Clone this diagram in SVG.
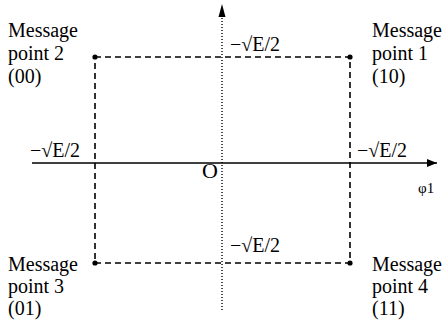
<svg xmlns="http://www.w3.org/2000/svg" width="444" height="328" viewBox="0 0 444 328">
<style>
text{font-family:'Liberation Serif','Times New Roman',serif;font-size:20px;fill:#000}
.dash{stroke:#000;stroke-width:1.6;stroke-dasharray:6,4;fill:none}
.axis{stroke:#000;stroke-width:1.3;fill:none}
.dot{stroke:#000;stroke-width:1.4;stroke-dasharray:1,2;fill:none}
</style>
<defs>
<marker id="ah" markerWidth="10" markerHeight="8" refX="10" refY="4" orient="auto" markerUnits="userSpaceOnUse">
<path d="M0,0 L10,4 L0,8 Z" fill="#000"/>
</marker>
</defs>
<rect width="444" height="328" fill="#fff"/>
<g id="connectors">
<line class="axis" x1="32" y1="163" x2="437" y2="163" marker-end="url(#ah)"/>
<line class="dot" x1="222" y1="310" x2="222" y2="18"/>
<path d="M222,4 L218.5,17 L225.5,17 Z" fill="#000"/>
<path class="dash" d="M95,57 H350 V263 H95 Z"/>
</g>
<g id="p1"><circle cx="350" cy="57" r="2.6"/><text x="372" y="37">Message</text><text x="372" y="60">point 1</text><text x="372" y="83">(10)</text></g>
<g id="p2"><circle cx="95" cy="57" r="2.6"/><text x="8" y="37">Message</text><text x="8" y="60">point 2</text><text x="8" y="83">(00)</text></g>
<g id="p3"><circle cx="95" cy="263" r="2.6"/><text x="8" y="271">Message</text><text x="8" y="293">point 3</text><text x="8" y="315">(01)</text></g>
<g id="p4"><circle cx="350" cy="263" r="2.6"/><text x="372" y="271">Message</text><text x="372" y="293">point 4</text><text x="372" y="315">(11)</text></g>
<g id="labels">
<text x="230" y="51">−√E/2</text>
<text x="30" y="157">−√E/2</text>
<text x="357" y="157">−√E/2</text>
<text x="230" y="252">−√E/2</text>
<text x="202" y="178" style="font-size:22px">O</text>
<text x="418" y="193" style="font-size:15px">φ1</text>
</g>
</svg>
